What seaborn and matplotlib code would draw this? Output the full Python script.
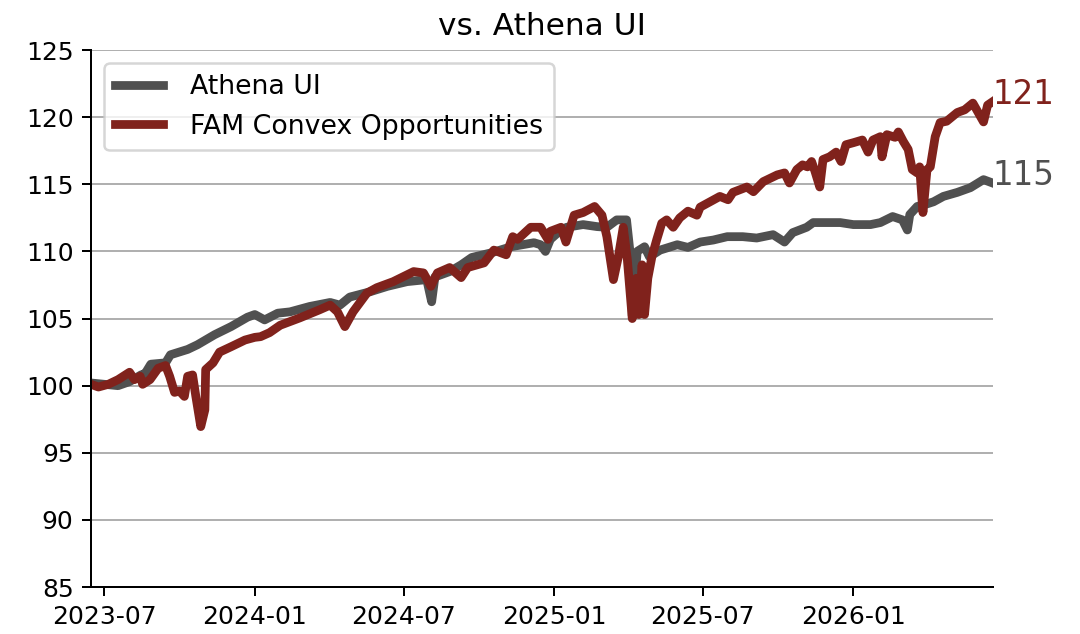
#!/usr/bin/env python3

"""
Cumulative growth chart: FAM Convex Opportunities vs. Athena UI
"""

import pandas as pd
import seaborn as sns
import matplotlib.pyplot as plt
import matplotlib.dates as mdates

# Athena UI (benchmark)
athena_dates = [
    "2023-06-15", "2023-07-18", "2023-08-01", "2023-08-15", "2023-08-20", "2023-08-27",
    "2023-09-14", "2023-09-20", "2023-10-11", "2023-10-23", "2023-11-13", "2023-12-03",
    "2023-12-23", "2024-01-01", "2024-01-13", "2024-01-29", "2024-02-13", "2024-03-08",
    "2024-04-02", "2024-04-14", "2024-04-26", "2024-05-21", "2024-06-11", "2024-07-05",
    "2024-07-29", "2024-08-04", "2024-08-08", "2024-08-26", "2024-09-09", "2024-09-22",
    "2024-10-16", "2024-11-09", "2024-12-07", "2024-12-15", "2024-12-21", "2024-12-27",
    "2025-01-09", "2025-01-16", "2025-02-05", "2025-02-22", "2025-03-06", "2025-03-18",
    "2025-03-30", "2025-04-03", "2025-04-06", "2025-04-12", "2025-04-21", "2025-04-27",
    "2025-05-10", "2025-05-31", "2025-06-13", "2025-06-28", "2025-07-14", "2025-07-31",
    "2025-08-19", "2025-09-05", "2025-09-25", "2025-10-09", "2025-10-19", "2025-11-05",
    "2025-11-13", "2025-11-30", "2025-12-16", "2026-01-01", "2026-01-22", "2026-02-03",
    "2026-02-18", "2026-03-02", "2026-03-08", "2026-03-11", "2026-03-20", "2026-03-30",
    "2026-04-09", "2026-04-21", "2026-05-08", "2026-05-24", "2026-06-09", "2026-06-20",
]
athena_vals = [
    100.2, 100.0, 100.3, 100.8, 100.9, 101.6,
    101.7, 102.3, 102.7, 103.05, 103.8, 104.4,
    105.1, 105.3, 104.9, 105.4, 105.5, 105.9,
    106.2, 106.0, 106.6, 107.0, 107.4, 107.75,
    107.9, 106.25, 108.1, 108.5, 109.0, 109.55,
    109.9, 110.35, 110.65, 110.5, 110.0, 110.9,
    111.6, 111.8, 112.0, 111.85, 111.8, 112.35,
    112.35, 110.1, 105.2, 110.0, 110.35, 109.6,
    110.1, 110.5, 110.3, 110.7, 110.85, 111.1,
    111.1, 111.0, 111.25, 110.7, 111.4, 111.8,
    112.15, 112.15, 112.15, 112.0, 112.0, 112.15,
    112.6, 112.35, 111.6, 112.75, 113.35, 113.5,
    113.7, 114.1, 114.4, 114.75, 115.35, 115.1,
]

# FAM Convex Opportunities (portfolio)
fam_dates = [
    "2023-06-15", "2023-06-24", "2023-07-06", "2023-07-18", "2023-08-01", "2023-08-07",
    "2023-08-14", "2023-08-17", "2023-08-26", "2023-09-05", "2023-09-14", "2023-09-19",
    "2023-09-25", "2023-10-01", "2023-10-07", "2023-10-11", "2023-10-17", "2023-10-21",
    "2023-10-27", "2023-11-01", "2023-11-02", "2023-11-11", "2023-11-19", "2023-12-03",
    "2023-12-20", "2024-01-01", "2024-01-08", "2024-01-19", "2024-02-01", "2024-02-25",
    "2024-03-20", "2024-04-02", "2024-04-11", "2024-04-20", "2024-04-30", "2024-05-17",
    "2024-05-29", "2024-06-18", "2024-07-13", "2024-07-25", "2024-08-03", "2024-08-11",
    "2024-08-26", "2024-09-09", "2024-09-17", "2024-10-07", "2024-10-19", "2024-11-03",
    "2024-11-11", "2024-11-17", "2024-12-03", "2024-12-15", "2024-12-24", "2024-12-27",
    "2025-01-09", "2025-01-15", "2025-01-25", "2025-02-05", "2025-02-19", "2025-02-28",
    "2025-03-06", "2025-03-14", "2025-03-20", "2025-03-26", "2025-03-31", "2025-04-06",
    "2025-04-11", "2025-04-14", "2025-04-18", "2025-04-21", "2025-04-25", "2025-04-30",
    "2025-05-06", "2025-05-12", "2025-05-18", "2025-05-26", "2025-06-03", "2025-06-13",
    "2025-06-24", "2025-06-28", "2025-07-10", "2025-07-22", "2025-08-01", "2025-08-07",
    "2025-08-24", "2025-09-01", "2025-09-13", "2025-09-30", "2025-10-09", "2025-10-15",
    "2025-10-24", "2025-10-31", "2025-11-06", "2025-11-11", "2025-11-15", "2025-11-21",
    "2025-11-25", "2025-12-03", "2025-12-11", "2025-12-17", "2025-12-23", "2026-01-01",
    "2026-01-12", "2026-01-19", "2026-01-25", "2026-02-03", "2026-02-05", "2026-02-11",
    "2026-02-21", "2026-02-25", "2026-03-03", "2026-03-09", "2026-03-14", "2026-03-20",
    "2026-03-23", "2026-03-27", "2026-04-01", "2026-04-05", "2026-04-11", "2026-04-17",
    "2026-04-25", "2026-05-08", "2026-05-17", "2026-05-27", "2026-06-02", "2026-06-09",
    "2026-06-14", "2026-06-20",
]
fam_vals = [
    100.1, 99.9, 100.1, 100.45, 101.0, 100.45,
    100.7, 100.1, 100.45, 101.3, 101.5, 100.7,
    99.5, 99.6, 99.2, 100.7, 100.8, 99.2,
    96.95, 98.2, 101.2, 101.7, 102.5, 102.9,
    103.4, 103.6, 103.65, 103.95, 104.5, 105.05,
    105.65, 106.0, 105.5, 104.4, 105.5, 106.9,
    107.3, 107.75, 108.5, 108.4, 107.4, 108.4,
    108.8, 108.05, 108.8, 109.15, 110.1, 109.75,
    111.1, 110.9, 111.8, 111.8, 110.9, 111.5,
    111.8, 110.7, 112.7, 112.9, 113.35, 112.7,
    111.1, 107.9, 109.6, 111.8, 109.4, 105.0,
    108.0, 105.3, 109.0, 105.3, 108.0, 109.6,
    110.9, 112.1, 112.35, 111.8, 112.5, 113.0,
    112.7, 113.3, 113.7, 114.1, 113.85, 114.4,
    114.8, 114.45, 115.2, 115.7, 115.85, 115.1,
    116.1, 116.45, 116.3, 116.7, 116.0, 114.8,
    116.85, 117.05, 117.4, 116.7, 117.95, 118.1,
    118.3, 117.4, 118.3, 118.55, 117.05, 118.7,
    118.5, 118.9, 118.2, 117.6, 116.1, 115.85,
    116.3, 112.9, 116.1, 116.3, 118.55, 119.6,
    119.7, 120.35, 120.55, 121.05, 120.4, 119.65,
    120.9, 121.15,
]

series_names = ["Athena UI", "FAM Convex Opportunities"]
series_colors = ["#505050", "#80221c"]
y_ticks = [85, 90, 95, 100, 105, 110, 115, 120, 125]

# Long-form table for seaborn
df = pd.concat([
    pd.DataFrame({"date": pd.to_datetime(athena_dates), "value": athena_vals,
                  "series": series_names[0]}),
    pd.DataFrame({"date": pd.to_datetime(fam_dates), "value": fam_vals,
                  "series": series_names[1]}),
], ignore_index=True)

plt.rcParams["font.family"] = ["DejaVu Sans"]
plt.rcParams["font.size"] = 10

fig, ax = plt.subplots(figsize=(6, 634 / 180), dpi=180)
fig.subplots_adjust(left=0.0843, right=0.919, top=0.921, bottom=0.0741)

sns.lineplot(data=df, x="date", y="value", hue="series", hue_order=series_names,
             palette=series_colors, linewidth=3.5, ax=ax, estimator=None)

# Last value labels at the right end of each line
for name, color in zip(series_names, series_colors):
    sub = df[df["series"] == name]
    last_x = sub["date"].iloc[-1]
    last_y = sub["value"].iloc[-1]
    ax.annotate("{:.0f}".format(last_y), xy=(last_x, last_y), xytext=(0, -1),
                textcoords="offset points", color=color, fontsize=13,
                ha="left", va="baseline")

ax.set_title("vs. Athena UI", fontsize=12.5)
ax.set_xlabel("")
ax.set_ylabel("")

ax.set_ylim(85, 125)
ax.set_yticks(y_ticks)
ax.set_xlim(df["date"].min(), df["date"].max())
ax.xaxis.set_major_locator(mdates.MonthLocator(bymonth=[1, 7]))
ax.xaxis.set_major_formatter(mdates.DateFormatter("%Y-%m"))

ax.yaxis.grid(True, color="#b0b0b0", linewidth=0.8)
ax.set_axisbelow(True)
ax.spines["top"].set_visible(False)
ax.spines["right"].set_visible(False)

ax.legend(loc="upper left", fontsize=10.7, handlelength=1.8, handletextpad=1.0)

plt.savefig("out.png", dpi=180)
